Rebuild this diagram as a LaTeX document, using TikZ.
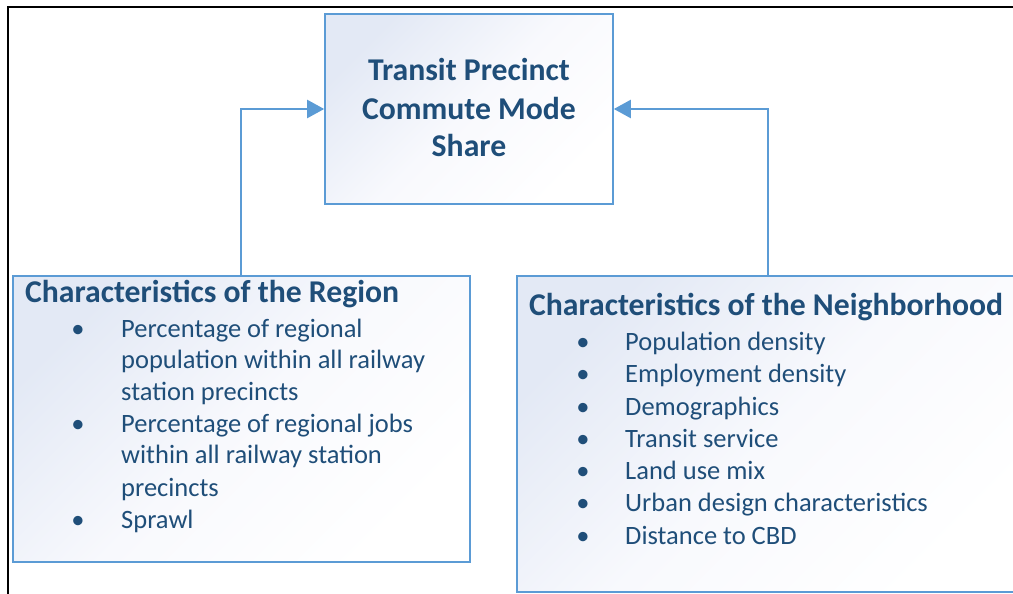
\documentclass[tikz,border=0pt]{standalone}
\usepackage{fontspec}
\setmainfont{Carlito}
\usetikzlibrary{arrows.meta}
\definecolor{txtblue}{HTML}{1F4E79}
\definecolor{edgeblue}{HTML}{5B9BD5}
\definecolor{shadeblue}{HTML}{E3E9F5}
\definecolor{shademid}{HTML}{F8F9FD}
\tikzset{
  box/.style={draw=edgeblue, line width=1.6bp, rectangle, inner sep=0pt,
    top color=shadeblue, bottom color=white, middle color=shademid, shading angle=45},
  conn/.style={draw=edgeblue, line width=2.2bp, -{Triangle[length=17bp,width=18bp]}},
  head/.style={anchor=base west, inner sep=0pt, text=txtblue, font=\fontsize{31.7bp}{38bp}\selectfont\bfseries},
  toptext/.style={anchor=base, inner sep=0pt, text=txtblue, font=\fontsize{31.7bp}{38bp}\selectfont\bfseries},
  item/.style={anchor=base west, inner sep=0pt, text=txtblue, font=\fontsize{26.5bp}{32bp}\selectfont},
  bul/.style={anchor=base, inner sep=0pt, text=txtblue, font=\fontsize{26.5bp}{32bp}\selectfont},
}
\begin{document}
\begin{tikzpicture}[x=1bp,y=-1bp]
\useasboundingbox (0,0) rectangle (1013,594);
% frame
\draw[line width=2.6bp, black] (8,600) -- (8,7) -- (1020,7);
% boxes
\node[box, minimum width=288bp, minimum height=190bp] (top) at (469,109) {};
\node[box, minimum width=457bp, minimum height=286bp] (lbox) at (241.5,419) {};
\node[box, minimum width=510bp, minimum height=316bp] (rbox) at (772,434) {};
% top text
\node[toptext] (t1) at (469,81) {Transit Precinct};
\node[toptext] (t2) at (469,119.3) {Commute Mode};
\node[toptext] (t3) at (469,157) {Share};
% left box text
\node[head] (lh) at (25,302.7) {Characteristics of the Region};
\node[bul] (lb1) at (78,337) {•};
\node[item] (l1) at (121,337) {Percentage of regional};
\node[item] (l2) at (121,368.5) {population within all railway};
\node[item] (l3) at (121,400) {station precincts};
\node[bul] (lb2) at (78,432) {•};
\node[item] (l4) at (121,432) {Percentage of regional jobs};
\node[item] (l5) at (121,463.5) {within all railway station};
\node[item] (l6) at (121,496) {precincts};
\node[bul] (lb3) at (78,528) {•};
\node[item] (l7) at (121,528) {Sprawl};
% right box text
\node[head] (rh) at (529,315) {Characteristics of the Neighborhood};
\foreach \y/\t [count=\i] in {350/Population density, 382.5/Employment density, 415/Demographics, 447/Transit service, 479.5/Land use mix, 511.7/Urban design characteristics, 544/Distance to CBD}{
  \node[bul] (rb\i) at (583,\y) {•};
  \node[item] (r\i) at (625,\y) {\t};
}
% connectors
\coordinate (lj) at (241,108);
\coordinate (rj) at (768,108);
\draw[conn] (lbox.north -| lj) |- (top.west);
\draw[conn] (rbox.north -| rj) |- (top.east);
\end{tikzpicture}
\end{document}
